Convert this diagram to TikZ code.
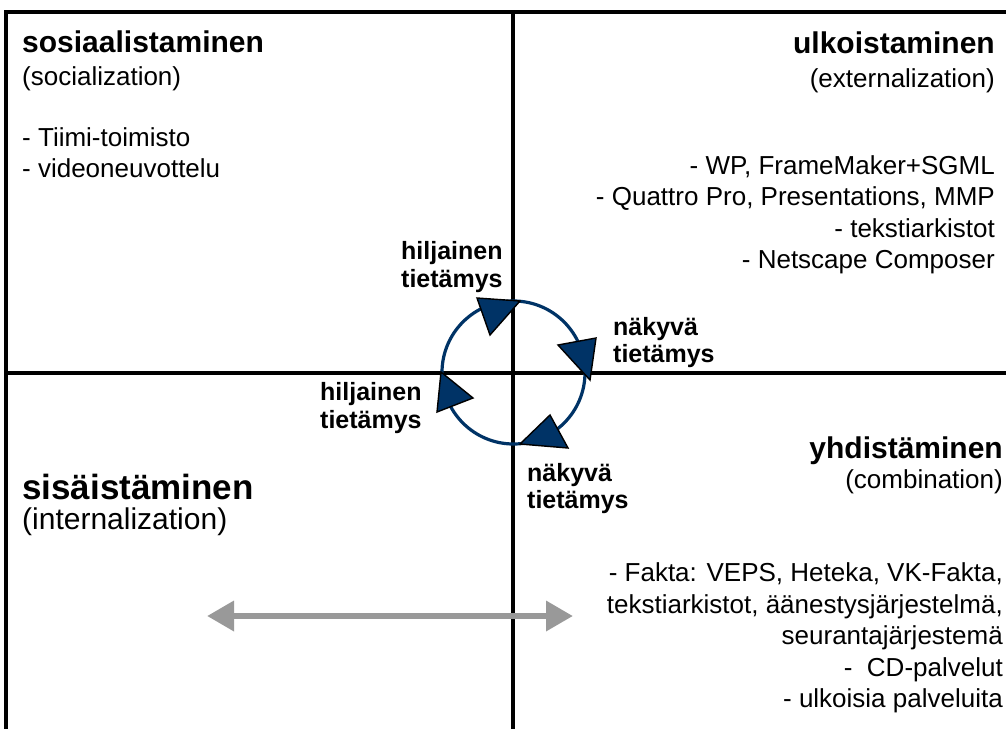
\documentclass[tikz,border=0pt]{standalone}
\usepackage{fontspec}
\setmainfont{Liberation Sans}
\usetikzlibrary{arrows.meta}
\definecolor{navy}{RGB}{0,51,102}
\definecolor{arrowgray}{RGB}{153,153,153}
\begin{document}
\begin{tikzpicture}[x=1pt,y=-1pt,
  frame/.style={line width=3.2pt, black},
  title/.style={font=\fontsize{30}{32}\selectfont\bfseries, inner sep=0pt},
  bigtitle/.style={font=\fontsize{35}{38}\selectfont\bfseries, inner sep=0pt},
  sub/.style={font=\fontsize{26}{30}\selectfont, inner sep=0pt},
  bigsub/.style={font=\fontsize{30}{34}\selectfont, inner sep=0pt},
  item/.style={font=\fontsize{26}{30}\selectfont, inner sep=0pt},
  knowl/.style={font=\fontsize{25}{28}\selectfont\bfseries, inner sep=0pt, anchor=base west},
  lw/.style={anchor=base west},
  le/.style={anchor=base east},
  cyc/.style={line width=3.2pt, navy},
  head/.style={fill=navy, draw=black, line width=1.4pt, line join=miter},
  garrow/.style={line width=6.5pt, arrowgray,
    {Triangle[length=27pt,width=29pt]}-{Triangle[length=27pt,width=29pt]}},
]
\useasboundingbox (0,0) rectangle (1006,729);

% quadrant frame
\coordinate (ftl) at (6,12);
\coordinate (ftr) at (1006,12);
\coordinate (fbl) at (6,729);
\coordinate (vt) at (513,12);
\coordinate (vb) at (513,729);
\coordinate (hl) at (6,373);
\coordinate (hr) at (1006,373);
\draw[frame] (ftr) -- (ftl) -- (fbl);
\draw[frame] (vt) -- (vb);
\draw[frame] (hl) -- (hr);

% socialization
\node[title, lw] (soc) at (22,52) {sosiaalistaminen};
\node[sub, lw] (socen) at (22,85) {(socialization)};
\node[item, lw] (soc1) at (22,146) {- Tiimi-toimisto};
\node[item, lw] (soc2) at (22,177) {- videoneuvottelu};

% externalization
\node[title, le] (ext) at (995,53) {ulkoistaminen};
\node[sub, le] (exten) at (995,87) {(externalization)};
\node[item, le] (ext1) at (995,174) {- WP, FrameMaker+SGML};
\node[item, le] (ext2) at (995,205) {- Quattro Pro, Presentations, MMP};
\node[item, le] (ext3) at (995,237) {- tekstiarkistot};
\node[item, le] (ext4) at (995,268) {- Netscape Composer};

% internalization
\node[bigtitle, lw] (int) at (22,499) {sisäistäminen};
\node[bigsub, lw] (inten) at (22,529) {(internalization)};

% combination
\node[title, le] (com) at (1003,458) {yhdistäminen};
\node[sub, le] (comen) at (1003,488) {(combination)};
\node[item, le] (com1) at (1003,581) {- Fakta: VEPS, Heteka, VK-Fakta,};
\node[item, le] (com2) at (1003,613) {tekstiarkistot, äänestysjärjestelmä,};
\node[item, le] (com3) at (1003,644) {seurantajärjestemä};
\node[item, le] (com4) at (1003,676) {-~\ CD-palvelut};
\node[item, le] (com5) at (1003,707) {- ulkoisia palveluita};

% knowledge cycle
\coordinate (c) at (513.5,372.5);
\draw[cyc] (c) circle (71.5pt);
\draw[head] (520,301) -- (477,298) -- (490,335) -- cycle;
\draw[head] (590,380) -- (558,345) -- (596,338) -- cycle;
\draw[head] (520,444) -- (550,415) -- (568,448) -- cycle;
\draw[head] (441,372) -- (473,398) -- (437,412) -- cycle;

\node[knowl] (k1a) at (401,259) {hiljainen};
\node[knowl] (k1b) at (401,287) {tietämys};
\node[knowl] (k2a) at (613,335) {näkyvä};
\node[knowl] (k2b) at (613,362) {tietämys};
\node[knowl] (k3a) at (320,400) {hiljainen};
\node[knowl] (k3b) at (320,428) {tietämys};
\node[knowl] (k4a) at (527,481) {näkyvä};
\node[knowl] (k4b) at (527,508) {tietämys};

% span arrow
\coordinate (ga) at (207,616);
\coordinate (gb) at (573,616);
\draw[garrow] (ga) -- (gb);
\end{tikzpicture}
\end{document}
